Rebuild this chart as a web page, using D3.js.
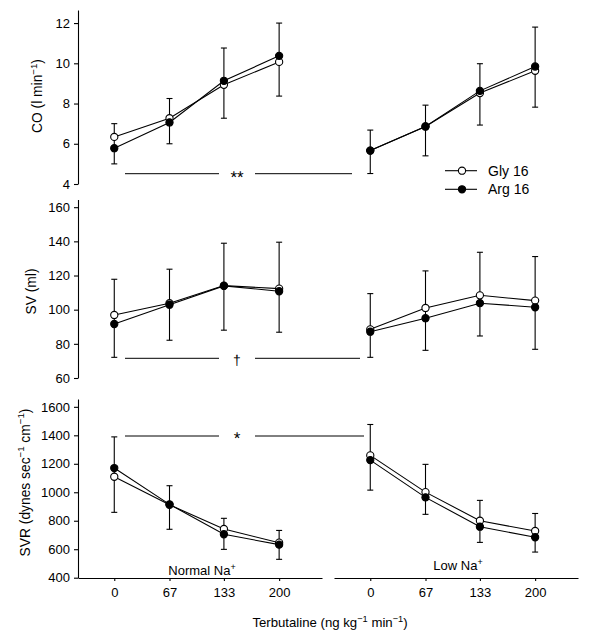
<!DOCTYPE html>
<html>
<head>
<meta charset="utf-8">
<script src="https://cdn.jsdelivr.net/npm/d3@7"></script>
<style>
  body { margin: 0; background: #fff; }
  svg { display: block; font-family: "Liberation Sans", Arial, sans-serif; }
</style>
</head>
<body>
<svg id="chart" width="592" height="636"></svg>
<script>
// ---------- DATA ----------
const doses = [0, 67, 133, 200];
const doseLabels = ["0", "67", "133", "200"];
const conditions = ["Normal Na", "Low Na"];
const seriesNames = ["Gly 16", "Arg 16"];

// each array: 4 values for Normal Na+, then 4 values for Low Na+
const coGly  = [6.34, 7.27, 8.93, 10.07, 5.66, 6.86, 8.52, 9.63];
const coArg  = [5.78, 7.06, 9.13, 10.37, 5.66, 6.86, 8.63, 9.84];
const coErrHigh = [7.0, 8.25, 10.76, 12.0, 6.68, 7.92, 9.98, 11.8];
const coErrLow  = [5.0, 6.0, 7.27, 8.37, 4.52, 5.4, 6.93, 7.82];
const coTicks = [4, 6, 8, 10, 12];

const svGly  = [96.9, 103.8, 114.1, 112.3, 88.5, 101.0, 108.4, 105.3];
const svArg  = [91.6, 102.9, 113.9, 110.8, 87.1, 95.0, 103.8, 101.4];
const svErrHigh = [117.8, 123.7, 138.9, 139.5, 109.4, 122.7, 133.6, 131.1];
const svErrLow  = [72.1, 82.1, 88.0, 86.8, 72.1, 76.2, 84.6, 76.8];
const svTicks = [60, 80, 100, 120, 140, 160];

const svrGly = [1109, 912, 742, 646, 1259, 1001, 800, 728];
const svrArg = [1170, 915, 705, 632, 1226, 964, 758, 684];
const svrErrHigh = [1389, 1046, 817, 732, 1476, 1196, 943, 851];
const svrErrLow  = [859, 740, 599, 529, 1015, 845, 648, 580];
const svrTicks = [400, 600, 800, 1000, 1200, 1400, 1600];

const sigMarks = ["**", "\u2020", "*"];

// ---------- LAYOUT ----------
const svg = d3.select("#chart");
const axisX = 78;
const xDomain = [-44, 252];
const xScales = [
  d3.scaleLinear().domain(xDomain).range([78, 322]),
  d3.scaleLinear().domain(xDomain).range([334, 578])
];

const panels = [
  { gly: coGly, arg: coArg, hi: coErrHigh, lo: coErrLow, ticks: coTicks,
    domain: [4, 12.65], range: [184, 10], title: ["CO (l min", "\u22121", ")"],
    titleX: 42, titleY: 96, sigY: 173.7, sigEnd: 352, sigTextY: 183, sigFs: 17 },
  { gly: svGly, arg: svArg, hi: svErrHigh, lo: svErrLow, ticks: svTicks,
    domain: [60, 164.5], range: [378, 199.5], title: ["SV (ml)"],
    titleX: 36, titleY: 291.5, sigY: 358.3, sigEnd: 360, sigTextY: 365, sigFs: 14 },
  { gly: svrGly, arg: svrArg, hi: svrErrHigh, lo: svrErrLow, ticks: svrTicks,
    domain: [400, 1655], range: [577.7, 399], title: ["SVR (dynes sec", "\u22121", " cm", "\u22121", ")"],
    titleX: 29.5, titleY: 482.5, sigY: 436, sigEnd: 364, sigTextY: 444, sigFs: 17 }
];

function addRich(textSel, parts, fs) {
  // parts alternate: normal, superscript, normal, superscript...
  parts.forEach((p, i) => {
    const t = textSel.append("tspan").text(p);
    if (i % 2 === 1) {
      t.attr("font-size", fs * 0.7).attr("dy", -fs * 0.38);
    } else if (i > 0) {
      t.attr("dy", fs * 0.38);
    }
  });
}

panels.forEach((p, pi) => {
  const y = d3.scaleLinear().domain(p.domain).range(p.range);
  const g = svg.append("g");

  // y axis
  const ax = g.append("g")
    .attr("transform", `translate(${axisX},0)`)
    .call(d3.axisLeft(y).tickValues(p.ticks).tickSize(4).tickSizeOuter(0).tickPadding(4)
      .tickFormat(d3.format("d")));
  ax.selectAll("text").attr("font-size", 13).attr("font-family", "Liberation Sans, Arial, sans-serif").attr("fill", "#000");
  ax.selectAll("line,path").attr("stroke", "#000").attr("stroke-width", 1.1);

  // y title
  const tt = g.append("text")
    .attr("transform", `translate(${p.titleX},${p.titleY}) rotate(-90)`)
    .attr("text-anchor", "middle").attr("font-size", 13.8).attr("fill", "#000");
  addRich(tt, p.title, 13.8);

  // significance line
  g.append("line").attr("x1", 125).attr("x2", 219).attr("y1", p.sigY).attr("y2", p.sigY)
    .attr("stroke", "#000").attr("stroke-width", 1);
  g.append("line").attr("x1", 255).attr("x2", p.sigEnd).attr("y1", p.sigY).attr("y2", p.sigY)
    .attr("stroke", "#000").attr("stroke-width", 1);
  g.append("text").attr("x", 237).attr("y", p.sigTextY).attr("text-anchor", "middle")
    .attr("font-size", p.sigFs).attr("font-family", "Liberation Sans, Arial, sans-serif")
    .attr("text-rendering", "geometricPrecision")
    .attr("fill", "#000").text(sigMarks[pi]);

  // for each condition
  [0, 1].forEach(ci => {
    const x = xScales[ci];
    const idx = d3.range(ci * 4, ci * 4 + 4);
    // error bars
    idx.forEach((k, j) => {
      const cx = x(doses[j]);
      g.append("line").attr("x1", cx).attr("x2", cx)
        .attr("y1", y(p.hi[k])).attr("y2", y(p.lo[k]))
        .attr("stroke", "#000").attr("stroke-width", 1.1);
      [p.hi[k], p.lo[k]].forEach(v => {
        g.append("line").attr("x1", cx - 3).attr("x2", cx + 3)
          .attr("y1", y(v)).attr("y2", y(v))
          .attr("stroke", "#000").attr("stroke-width", 1.1);
      });
    });
    // series lines and markers
    [{ vals: p.gly, fill: "#fff" }, { vals: p.arg, fill: "#000" }].forEach(s => {
      const pts = idx.map((k, j) => [x(doses[j]), y(s.vals[k])]);
      g.append("path").attr("d", d3.line()(pts))
        .attr("fill", "none").attr("stroke", "#000").attr("stroke-width", 1.1);
    });
    [{ vals: p.gly, fill: "#fff" }, { vals: p.arg, fill: "#000" }].forEach(s => {
      idx.forEach((k, j) => {
        g.append("circle").attr("cx", x(doses[j])).attr("cy", y(s.vals[k])).attr("r", 3.6)
          .attr("fill", s.fill).attr("stroke", "#000").attr("stroke-width", 1.1);
      });
    });
  });
});

// x axes (bottom panel)
xScales.forEach((x, ci) => {
  const ax = svg.append("g").attr("transform", "translate(0,578)")
    .call(d3.axisBottom(x).tickValues(doses).tickSize(3).tickSizeOuter(0).tickPadding(7)
      .tickFormat((d, i) => doseLabels[i]));
  ax.selectAll("text").attr("font-size", 13).attr("font-family", "Liberation Sans, Arial, sans-serif").attr("fill", "#000");
  ax.selectAll("line,path").attr("stroke", "#000").attr("stroke-width", 1.1);
});

// condition labels
const condPos = [[202, 575], [458, 570]];
conditions.forEach((c, i) => {
  const t = svg.append("text").attr("x", condPos[i][0]).attr("y", condPos[i][1])
    .attr("text-anchor", "middle").attr("font-size", 13).attr("fill", "#000");
  t.append("tspan").text(c);
  t.append("tspan").text("+").attr("font-size", 9).attr("dy", -5);
});

// x title
const xt = svg.append("text").attr("x", 330).attr("y", 627).attr("text-anchor", "middle")
  .attr("font-size", 13.2).attr("fill", "#000");
addRich(xt, ["Terbutaline (ng kg", "\u22121", " min", "\u22121", ")"], 13.2);

// legend
const legY = [170.7, 189.3];
const legFill = ["#fff", "#000"];
seriesNames.forEach((n, i) => {
  svg.append("line").attr("x1", 445).attr("x2", 477).attr("y1", legY[i]).attr("y2", legY[i])
    .attr("stroke", "#000").attr("stroke-width", 1.1);
  svg.append("circle").attr("cx", 462).attr("cy", legY[i]).attr("r", 3.6)
    .attr("fill", legFill[i]).attr("stroke", "#000").attr("stroke-width", 1.1);
  svg.append("text").attr("x", 488).attr("y", legY[i] + 5).attr("font-size", 14)
    .attr("fill", "#000").text(n);
});
</script>
</body>
</html>
